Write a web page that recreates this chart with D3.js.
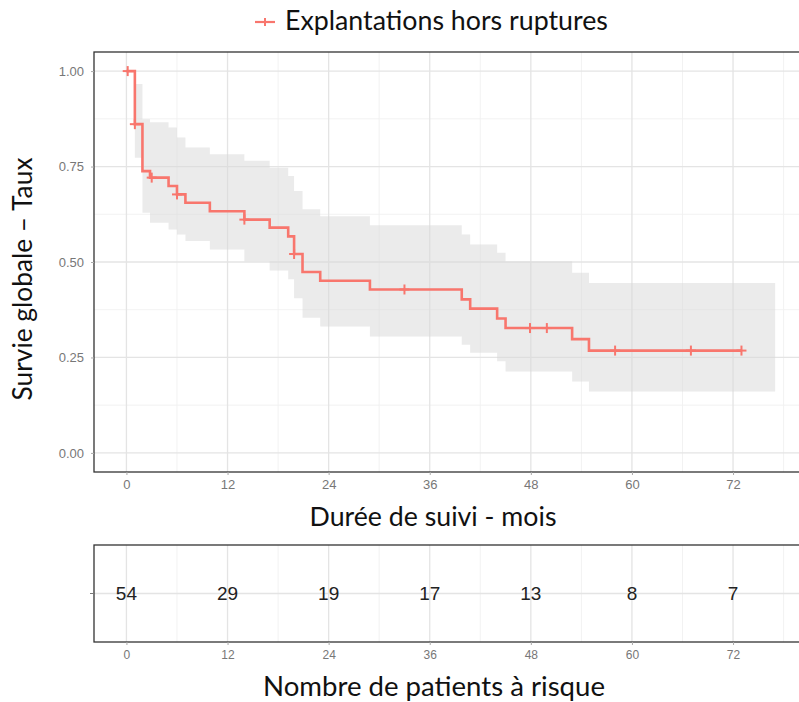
<!DOCTYPE html>
<html>
<head>
<meta charset="utf-8">
<script src="https://cdn.jsdelivr.net/npm/d3@7"></script>
<style>
  html, body { margin: 0; padding: 0; background: #fff; }
  svg { display: block; }
</style>
</head>
<body>
<svg id="chart" width="799" height="702"></svg>
<script>
// ---------- data ----------
const stepTimes = [0, 1.0, 1.9, 2.8, 5.0, 6.0, 7.0, 9.9, 14.0, 17.0, 19.2, 19.9, 20.9, 23.0, 28.9, 39.8, 40.8, 44.0, 45.0, 52.9, 54.9];
const survival  = [1.0, 0.861, 0.738, 0.721, 0.699, 0.677, 0.655, 0.633, 0.611, 0.590, 0.567, 0.521, 0.474, 0.451, 0.428, 0.402, 0.378, 0.352, 0.327, 0.298, 0.268];
const upperCI   = [1.0, 0.966, 0.874, 0.866, 0.852, 0.826, 0.800, 0.782, 0.765, 0.747, 0.725, 0.686, 0.638, 0.620, 0.596, 0.572, 0.546, 0.524, 0.502, 0.472, 0.445];
const lowerCI   = [1.0, 0.773, 0.629, 0.603, 0.585, 0.572, 0.555, 0.533, 0.502, 0.478, 0.455, 0.405, 0.354, 0.331, 0.305, 0.283, 0.262, 0.240, 0.213, 0.187, 0.161];
const curveEnd  = 73.0;   // last follow-up of the curve
const bandEnd   = 77.0;   // end of confidence band
const censorTimes = [0.15, 1.0, 3.0, 6.0, 14.0, 19.9, 33.0, 47.9, 49.9, 58.0, 67.0, 73.0];

const xTicks = [0, 12, 24, 36, 48, 60, 72];
const xMinor = [6, 18, 30, 42, 54, 66, 78];
const yTicks = [0, 0.25, 0.5, 0.75, 1.0];
const yMinor = [0.125, 0.375, 0.625, 0.875];

const riskTimes = [0, 12, 24, 36, 48, 60, 72];
const riskCounts = [54, 29, 19, 17, 13, 8, 7];

const legendLabel = "Explantations hors ruptures";
const xTitle = "Durée de suivi - mois";
const yTitle = "Survie globale – Taux";
const tableTitle = "Nombre de patients à risque";

// ---------- layout ----------
const RED = "#F8766D";
const svg = d3.select("#chart");
const panel = { left: 94, right: 807.6, top: 52, bottom: 472 };
const table = { top: 545, bottom: 642 };

const x = d3.scaleLinear().domain([-3.85, 80.85]).range([panel.left, panel.right]);
const y = d3.scaleLinear().domain([-0.05, 1.05]).range([panel.bottom, panel.top]);
const yT = d3.scaleLinear().domain([0, 1]).range([table.bottom, table.top]);

const titleFont = "Lato, 'Open Sans', sans-serif";
const tickFont = "'Liberation Sans', Arial, sans-serif";

function fitText(sel, targetW) {
  const node = sel.node();
  const w = node.getComputedTextLength();
  const fs = parseFloat(sel.attr("font-size"));
  sel.attr("font-size", (fs * targetW / w).toFixed(2));
}

// ---------- main panel ----------
const g = svg.append("g");

g.selectAll(".ymin").data(yMinor).join("line")
  .attr("x1", panel.left).attr("x2", panel.right)
  .attr("y1", d => y(d)).attr("y2", d => y(d))
  .attr("stroke", "#f1f1f1").attr("stroke-width", 0.9);
g.selectAll(".xmin").data(xMinor).join("line")
  .attr("y1", panel.top).attr("y2", panel.bottom)
  .attr("x1", d => x(d)).attr("x2", d => x(d))
  .attr("stroke", "#f1f1f1").attr("stroke-width", 0.9);
g.selectAll(".ymaj").data(yTicks).join("line")
  .attr("x1", panel.left).attr("x2", panel.right)
  .attr("y1", d => y(d)).attr("y2", d => y(d))
  .attr("stroke", "#e4e4e4").attr("stroke-width", 1.3);
g.selectAll(".xmaj").data(xTicks).join("line")
  .attr("y1", panel.top).attr("y2", panel.bottom)
  .attr("x1", d => x(d)).attr("x2", d => x(d))
  .attr("stroke", "#e4e4e4").attr("stroke-width", 1.3);

// confidence band
const bandData = stepTimes.map((t, i) => ({ t, lo: lowerCI[i], hi: upperCI[i] }));
bandData.push({ t: bandEnd, lo: lowerCI[lowerCI.length - 1], hi: upperCI[upperCI.length - 1] });
const area = d3.area().curve(d3.curveStepAfter)
  .x(d => x(d.t)).y0(d => y(d.lo)).y1(d => y(d.hi));
g.append("path").datum(bandData).attr("d", area)
  .attr("fill", "#d9d9d9").attr("fill-opacity", 0.52);

// survival curve
const lineData = stepTimes.map((t, i) => ({ t, s: survival[i] }));
lineData.push({ t: curveEnd, s: survival[survival.length - 1] });
const line = d3.line().curve(d3.curveStepAfter).x(d => x(d.t)).y(d => y(d.s));
g.append("path").datum(lineData).attr("d", line)
  .attr("fill", "none").attr("stroke", RED).attr("stroke-width", 2.6);

// censor marks
function survAt(t) {
  const i = d3.bisectRight(stepTimes, t) - 1;
  return survival[Math.max(0, i)];
}
const cs = 5;
const cg = g.selectAll(".cens").data(censorTimes).join("g")
  .attr("transform", d => `translate(${x(d)},${y(survAt(d))})`);
cg.append("line").attr("x1", -cs).attr("x2", cs).attr("y1", 0).attr("y2", 0)
  .attr("stroke", RED).attr("stroke-width", 2);
cg.append("line").attr("x1", 0).attr("x2", 0).attr("y1", -cs).attr("y2", cs)
  .attr("stroke", RED).attr("stroke-width", 2);

g.append("rect").attr("x", panel.left).attr("y", panel.top)
  .attr("width", panel.right - panel.left).attr("height", panel.bottom - panel.top)
  .attr("fill", "none").attr("stroke", "#333").attr("stroke-width", 1.3);

// axes
const xAxis = d3.axisBottom(x).tickValues(xTicks).tickSize(3).tickPadding(5).tickFormat(d3.format("d"));
const gx = svg.append("g").attr("transform", `translate(0,${panel.bottom})`).call(xAxis);
const yAxis = d3.axisLeft(y).tickValues(yTicks).tickSize(3).tickPadding(7).tickFormat(d3.format(".2f"));
const gy = svg.append("g").attr("transform", `translate(${panel.left},0)`).call(yAxis);
[gx, gy].forEach(a => {
  a.select(".domain").remove();
  a.selectAll(".tick line").attr("stroke", "#aaa");
  a.selectAll(".tick text").attr("fill", "#777").attr("font-family", tickFont).attr("font-size", 13);
});

// titles
const xt = svg.append("text").attr("x", 433).attr("y", 526).attr("text-anchor", "middle")
  .attr("font-family", titleFont).attr("font-size", 22).attr("fill", "#111").text(xTitle);
fitText(xt, 247);
const yt = svg.append("text").attr("transform", "translate(32,279) rotate(-90)").attr("text-anchor", "middle")
  .attr("font-family", titleFont).attr("font-size", 22).attr("fill", "#111").text(yTitle);
fitText(yt, 243);

// legend
const lg = svg.append("g").attr("transform", "translate(0,22)");
lg.append("line").attr("x1", 255).attr("x2", 275).attr("y1", 0).attr("y2", 0)
  .attr("stroke", RED).attr("stroke-width", 2.2);
lg.append("line").attr("x1", 265).attr("x2", 265).attr("y1", -4).attr("y2", 4)
  .attr("stroke", RED).attr("stroke-width", 2);
const lt = lg.append("text").attr("x", 285).attr("y", 8)
  .attr("font-family", titleFont).attr("font-size", 22).attr("fill", "#111").text(legendLabel);
fitText(lt, 323);

// ---------- risk table ----------
const tg = svg.append("g");
tg.selectAll(".tmin").data(xMinor).join("line")
  .attr("y1", table.top).attr("y2", table.bottom)
  .attr("x1", d => x(d)).attr("x2", d => x(d))
  .attr("stroke", "#f1f1f1").attr("stroke-width", 0.9);
tg.selectAll(".tmaj").data(xTicks).join("line")
  .attr("y1", table.top).attr("y2", table.bottom)
  .attr("x1", d => x(d)).attr("x2", d => x(d))
  .attr("stroke", "#e4e4e4").attr("stroke-width", 1.3);
tg.append("line").attr("x1", panel.left).attr("x2", panel.right)
  .attr("y1", yT(0.5)).attr("y2", yT(0.5))
  .attr("stroke", "#e4e4e4").attr("stroke-width", 1.3);

tg.selectAll(".risk").data(riskTimes).join("text")
  .attr("x", d => x(d)).attr("y", yT(0.5)).attr("dy", "0.36em")
  .attr("text-anchor", "middle").attr("font-family", tickFont).attr("font-size", 19)
  .attr("fill", "#222").text((d, i) => riskCounts[i]);

tg.append("rect").attr("x", panel.left).attr("y", table.top)
  .attr("width", panel.right - panel.left).attr("height", table.bottom - table.top)
  .attr("fill", "none").attr("stroke", "#333").attr("stroke-width", 1.3);

const txAxis = d3.axisBottom(x).tickValues(xTicks).tickSize(3).tickPadding(5).tickFormat(d3.format("d"));
const gtx = svg.append("g").attr("transform", `translate(0,${table.bottom})`).call(txAxis);
gtx.select(".domain").remove();
gtx.selectAll(".tick line").attr("stroke", "#aaa");
gtx.selectAll(".tick text").attr("fill", "#777").attr("font-family", tickFont).attr("font-size", 12);

svg.append("line").attr("x1", panel.left - 4).attr("x2", panel.left)
  .attr("y1", yT(0.5)).attr("y2", yT(0.5)).attr("stroke", "#777").attr("stroke-width", 1);

const tt = svg.append("text").attr("x", 434).attr("y", 696).attr("text-anchor", "middle")
  .attr("font-family", titleFont).attr("font-size", 22).attr("fill", "#111").text(tableTitle);
fitText(tt, 342);
</script>
</body>
</html>
